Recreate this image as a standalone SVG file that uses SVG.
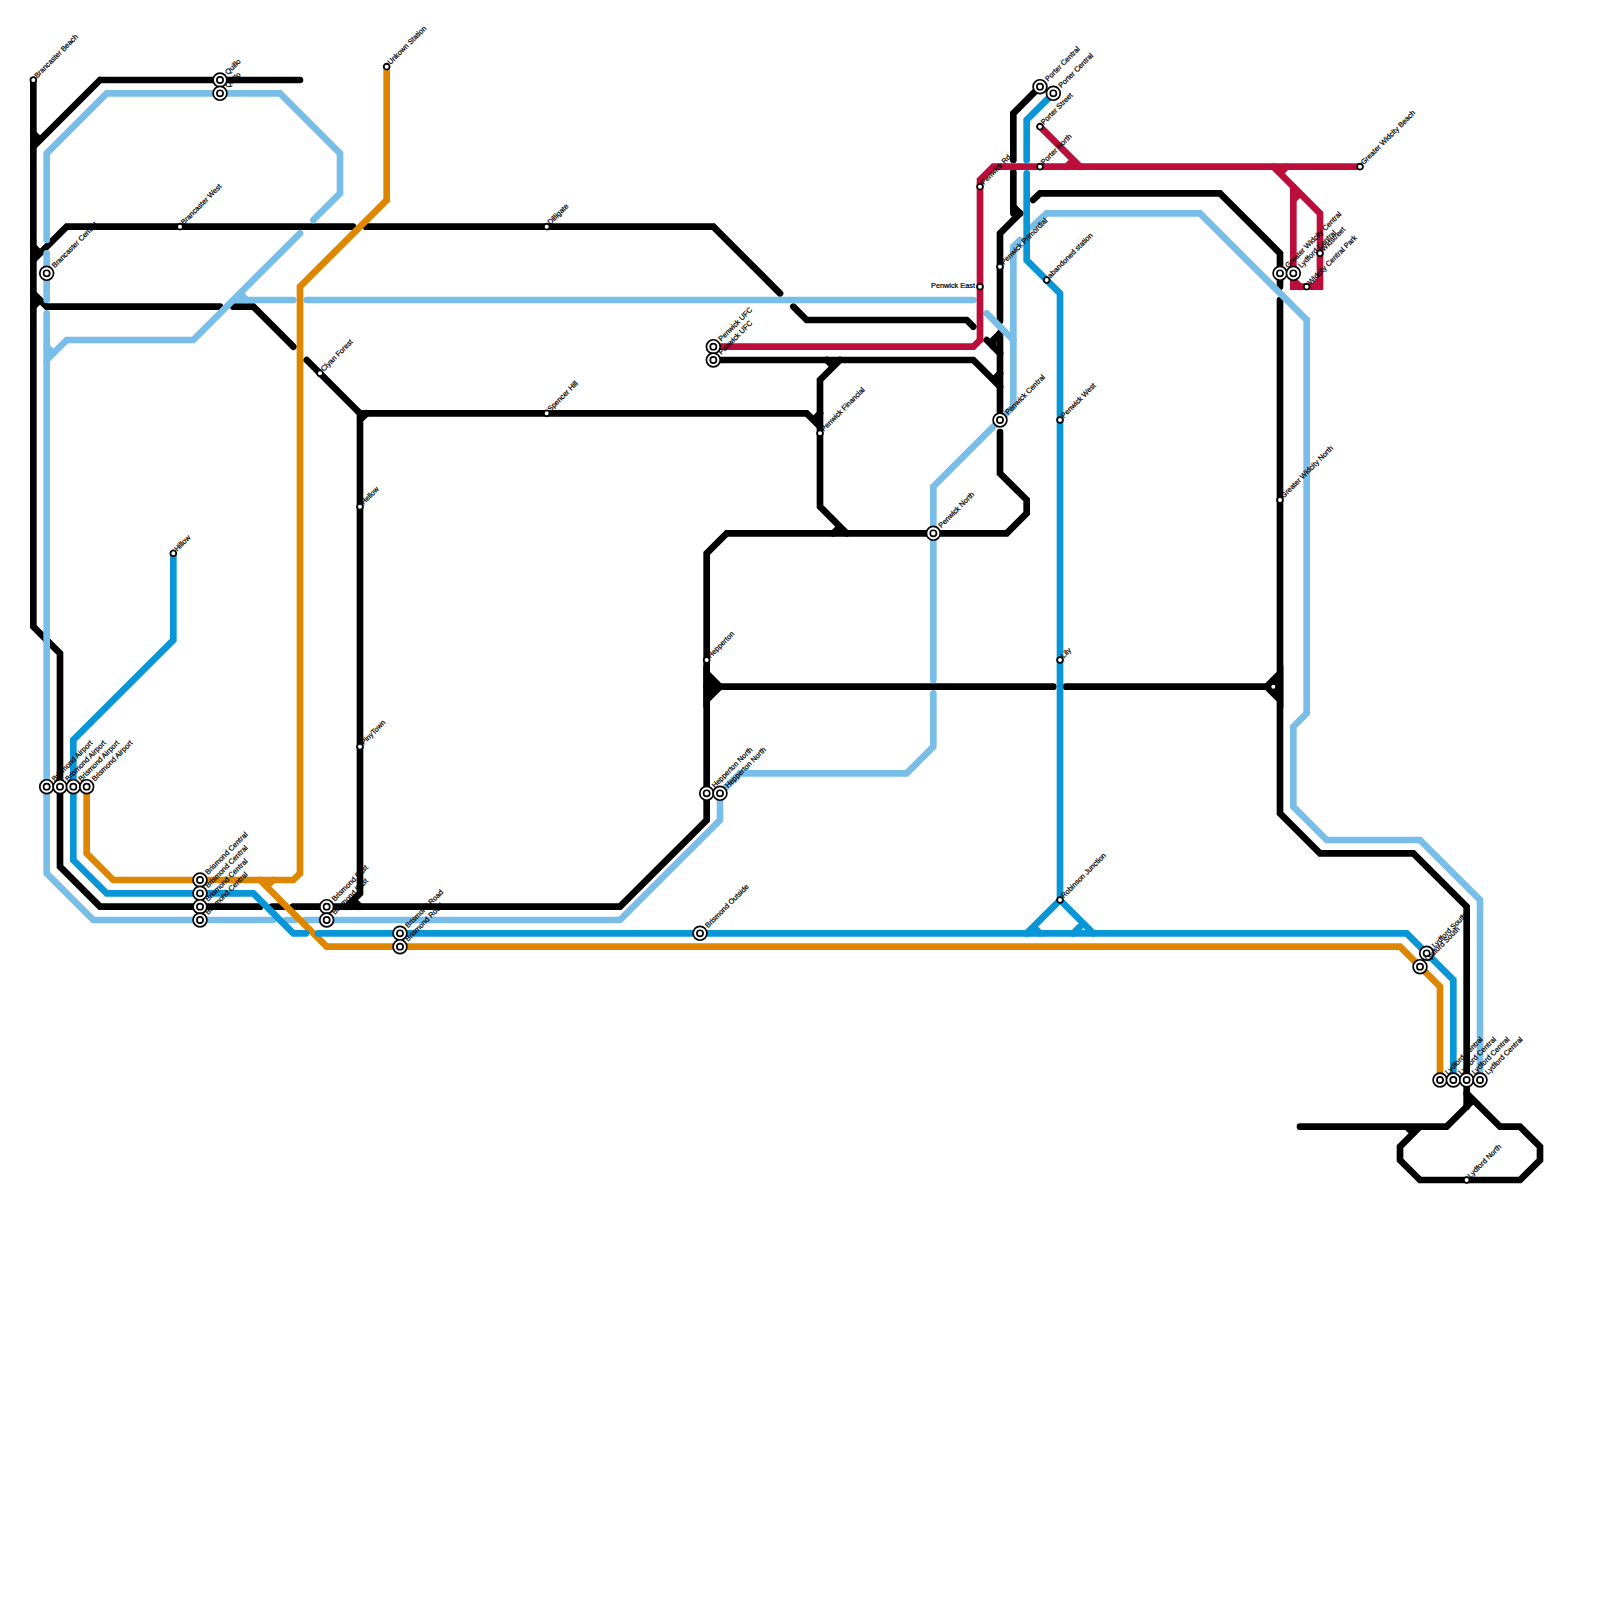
<svg xmlns="http://www.w3.org/2000/svg" xmlns:xlink="http://www.w3.org/1999/xlink" width="1600" height="1600" viewBox="0 0 1600 1600">
<style>
.c path{fill:none;stroke-width:6.67;stroke-linecap:round;stroke-linejoin:miter}
.c .k path,.k path{stroke:#000}
.c .k path.f{fill:#000}
.l path{stroke:#79bde9}
.b path{stroke:#0896d7}
.o path{stroke:#df8600}
.r path{stroke:#bb0e3a}
text{font-family:"Liberation Sans",Arial,sans-serif;font-size:7.33px;fill:#000;stroke:#000;stroke-width:.22px}
.s{transform:translate(3.8px,-1.6px) rotate(-45deg)}
.i{transform:translate(8px,-5px) rotate(-45deg)}
.e{text-anchor:end}
</style>
<defs>
<g id="small"><circle r="2.9" fill="#fff" stroke="#000" stroke-width="1.8"/></g>
<g id="inter"><circle r="6.9" fill="#fff" stroke="#000" stroke-width="1.7"/><circle r="3.1" fill="#fff" stroke="#000" stroke-width="1.7"/></g>
</defs>
<rect width="1600" height="1600" fill="#fff"/>
<g id="connectors" class="c">
<g class="k">
<path d="M33.33 80V626.67L60 653.33V866.67L100 906.67H260"/>
<path d="M272 906.67H283"/>
<path d="M293 906.67H620L706.67 820V553.33L726.67 533.33H1006.67L1026.67 513.33V500L1000 473.33V432"/>
<path d="M100 80L33.33 146.67M100 80H300M33.33 133.33L40 140"/>
<path d="M33.33 260L66.67 226.67H353M33.33 246.67L40 253.33"/>
<path d="M366 226.67H713.33L780 293.33"/>
<path d="M793.33 306.67L806.67 320H966.67L973.33 326.67"/>
<path d="M986.67 340L1000 353.33M1000 333.33L993.33 340V346.67"/>
<path d="M33.33 293.33L46.67 306.67H220M33.33 306.67L40 300"/>
<path d="M233.33 306.67H253.33L293.33 346.67"/>
<path d="M306.67 360L360 413.33V893.33L346.67 906.67M360 420L366.67 413.33M353.33 900L360 906.67"/>
<path d="M360 413.33H806.67L820 426.67M820 413.33L813.33 420"/>
<path d="M713.33 360H973.33L1000 386.67M1000 373.33L993.33 380"/>
<path d="M840 360L820 380V506.67L846.67 533.33M826.67 360L833.33 366.67M833.33 533.33L840 526.67"/>
<path d="M1000 333V412"/>
<path d="M1040 86.67L1013.33 113.33V160"/>
<path d="M1013.33 172V213.33M1013.33 206.67L1020 213.33"/>
<path d="M1020 213.33L1000 233.33V321"/>
<path d="M1033 200L1040 193.33H1220L1280 253.33V286.67"/>
<path d="M1280 300V813.33L1320 853.33H1413.33L1466.67 906.67V1106.67"/>
<path d="M706.67 686.67H1053.33"/>
<path class="f" d="M706.67 673.33L720 686.67L706.67 700Z"/>
<path class="f" d="M1280 673.33L1266.67 686.67L1280 700Z"/>
<path d="M1066 686.67H1266.67"/>
<path d="M1300 1126.67H1446.67L1473.33 1100M1466.67 1093.33L1500 1126.67H1520L1540 1146.67V1160L1520 1180H1420L1400 1160V1146.67L1420 1126.67M1406.67 1126.67L1413.33 1133.33"/>
</g>
<g class="l">
<path d="M46.67 240V153.33L106.67 93.33H280L340 153.33V193.33L313.33 220"/>
<path d="M300 233.33L193.33 340H66.67L46.67 360M46.67 346.67L53.33 353.33"/>
<path d="M46.67 253.33V300"/>
<path d="M46.67 313.33V873.33L93.33 920H273.33"/>
<path d="M286 920H295"/>
<path d="M305 920H620L720 820V793.33L740 773.33H906.67L933.33 746.67V693.33"/>
<path d="M933.33 680V486.67L1013.33 406.67V246.67L1020 240"/>
<path d="M1032 227L1046.67 213.33H1200L1306.67 320V713.33L1293.33 726.67V806.67L1326.67 840H1420L1480 900V1080"/>
<path d="M233.33 300H293.33M240 293.33L246.67 300"/>
<path d="M306.67 300H973.33"/>
<path d="M986.67 313.33L1013.33 340"/>
</g>
<g class="o">
<path d="M386.67 66.67V200L300 286.67V873.33L293.33 880H113.33L86.67 853.33V786.67"/>
<path d="M260 880L326.67 946.67H1400L1440 986.67V1080M273.33 880L266.67 886.67"/>
</g>
<g class="b">
<path d="M173.33 553.33V640L73.33 740V860L106.67 893.33H253.33L293.33 933.33H306"/>
<path d="M318 933.33H1406.67L1453.33 980V1080"/>
<path d="M1053.33 93.33L1026.67 120V160"/>
<path d="M1026.67 173.33V260L1060 293.33V900L1026.67 933.33M1060 900L1093.33 933.33M1033.33 926.67L1040 933.33M1080 926.67L1073.33 933.33"/>
</g>
<g class="r">
<path d="M713.33 346.67H973.33L980 340V180L993.33 166.67H1360"/>
<path d="M1040 126.67L1080 166.67M1066.67 166.67L1073.33 160"/>
<path d="M1273.33 166.67L1320 213.33V286.67H1293.33V186.67M1286.67 166.67L1280 173.33M1293.33 200L1300 193.33M1293.33 280L1300 286.67M1320 280L1313.33 286.67"/>
</g>
</g>
<g id="n-brancaster-beach" transform="translate(33.33 80)"><use href="#small"/><text class="s">Brancaster Beach</text></g>
<g id="n-quillo-1" transform="translate(220 80)"><use href="#inter"/><text class="i">Quillo</text></g>
<g id="n-quillo-2" transform="translate(220 93.33)"><use href="#inter"/><text class="i">Quillo</text></g>
<g id="n-unkown" transform="translate(386.67 66.67)"><use href="#small"/><text class="s">Unkown Station</text></g>
<g id="n-brancaster-west" transform="translate(180 226.67)"><use href="#small"/><text class="s">Brancaster West</text></g>
<g id="n-brancaster-central" transform="translate(46.67 273.33)"><use href="#inter"/><text class="i">Brancaster Central</text></g>
<g id="n-clyan-forest" transform="translate(320 373.33)"><use href="#small"/><text class="s">Clyan Forest</text></g>
<g id="n-hellow" transform="translate(360 506.67)"><use href="#small"/><text class="s">Hellow</text></g>
<g id="n-pinytown" transform="translate(360 746.67)"><use href="#small"/><text class="s">PinyTown</text></g>
<g id="n-hillow" transform="translate(173.33 553.33)"><use href="#small"/><text class="s">Hillow</text></g>
<g id="n-airport-1" transform="translate(46.67 786.67)"><use href="#inter"/><text class="i">Brismond Airport</text></g>
<g id="n-airport-2" transform="translate(60 786.67)"><use href="#inter"/><text class="i">Brismond Airport</text></g>
<g id="n-airport-3" transform="translate(73.33 786.67)"><use href="#inter"/><text class="i">Brismond Airport</text></g>
<g id="n-airport-4" transform="translate(86.67 786.67)"><use href="#inter"/><text class="i">Brismond Airport</text></g>
<g id="n-central-1" transform="translate(200 880)"><use href="#inter"/><text class="i">Brismond Central</text></g>
<g id="n-central-2" transform="translate(200 893.33)"><use href="#inter"/><text class="i">Brismond Central</text></g>
<g id="n-central-3" transform="translate(200 906.67)"><use href="#inter"/><text class="i">Brismond Central</text></g>
<g id="n-central-4" transform="translate(200 920)"><use href="#inter"/><text class="i">Brismond Central</text></g>
<g id="n-east-1" transform="translate(326.67 906.67)"><use href="#inter"/><text class="i">Brismond East</text></g>
<g id="n-east-2" transform="translate(326.67 920)"><use href="#inter"/><text class="i">Brismond East</text></g>
<g id="n-road-1" transform="translate(400 933.33)"><use href="#inter"/><text class="i">Brismond Road</text></g>
<g id="n-road-2" transform="translate(400 946.67)"><use href="#inter"/><text class="i">Brismond Road</text></g>
<g id="n-outside" transform="translate(700 933.33)"><use href="#inter"/><text class="i">Brismond Outside</text></g>
<g id="n-dilligate" transform="translate(546.67 226.67)"><use href="#small"/><text class="s">Dilligate</text></g>
<g id="n-spencer-hill" transform="translate(546.67 413.33)"><use href="#small"/><text class="s">Spencer Hill</text></g>
<g id="n-ufc-1" transform="translate(713.33 346.67)"><use href="#inter"/><text class="i">Penwick UFC</text></g>
<g id="n-ufc-2" transform="translate(713.33 360)"><use href="#inter"/><text class="i">Penwick UFC</text></g>
<g id="n-financial" transform="translate(820 433.33)"><use href="#small"/><text class="s">Penwick Financial</text></g>
<g id="n-hepperton" transform="translate(706.67 660)"><use href="#small"/><text class="s">Hepperton</text></g>
<g id="n-hepperton-north-1" transform="translate(706.67 793.33)"><use href="#inter"/><text class="i">Hepperton North</text></g>
<g id="n-hepperton-north-2" transform="translate(720 793.33)"><use href="#inter"/><text class="i">Hepperton North</text></g>
<g id="n-penwick-north" transform="translate(933.33 533.33)"><use href="#inter"/><text class="i">Penwick North</text></g>
<g id="n-penwick-central" transform="translate(1000 420)"><use href="#inter"/><text class="i">Penwick Central</text></g>
<g id="n-penwick-west" transform="translate(1060 420)"><use href="#small"/><text class="s">Penwick West</text></g>
<g id="n-lily" transform="translate(1060 660)"><use href="#small"/><text class="s">Lily</text></g>
<g id="n-robinson" transform="translate(1060 900)"><use href="#small"/><text class="s">Robinson Junction</text></g>
<g id="n-penwick-east" transform="translate(980 286.67)"><use href="#small"/><text class="e" x="-5" y="1">Penwick East</text></g>
<g id="n-primordial" transform="translate(1000 266.67)"><use href="#small"/><text class="s">Penwick Primordial</text></g>
<g id="n-abandoned" transform="translate(1046.67 280)"><use href="#small"/><text class="s">abandoned station</text></g>
<g id="n-porter-central-1" transform="translate(1040 86.67)"><use href="#inter"/><text class="i">Porter Central</text></g>
<g id="n-porter-central-2" transform="translate(1053.33 93.33)"><use href="#inter"/><text class="i">Porter Central</text></g>
<g id="n-porter-street" transform="translate(1040 126.67)"><use href="#small"/><text class="s">Porter Street</text></g>
<g id="n-porter-north" transform="translate(1040 166.67)"><use href="#small"/><text class="s">Porter North</text></g>
<g id="n-penwick-rd" transform="translate(980 186.67)"><use href="#small"/><text class="s">Penwick Rd</text></g>
<g id="n-widcity-central" transform="translate(1280 273.33)"><use href="#inter"/><text class="i">Greater Widcity Central</text></g>
<g id="n-lydford-central-w" transform="translate(1293.33 273.33)"><use href="#inter"/><text class="i">Lydford Central</text></g>
<g id="n-widstreet" transform="translate(1320 253.33)"><use href="#small"/><text class="s">Widstreet</text></g>
<g id="n-widcity-park" transform="translate(1306.67 286.67)"><use href="#small"/><text class="s">Widcity Central Park</text></g>
<g id="n-widcity-beach" transform="translate(1360 166.67)"><use href="#small"/><text class="s">Greater Widcity Beach</text></g>
<g id="n-widcity-north" transform="translate(1280 500)"><use href="#small"/><text class="s">Greater Widcity North</text></g>
<g id="n-junction-dot" transform="translate(1273.33 686.67)"><use href="#small"/></g>
<g id="n-lydford-south-1" transform="translate(1426.67 953.33)"><use href="#inter"/><text class="i">Lydford South</text></g>
<g id="n-lydford-south-2" transform="translate(1420 966.67)"><use href="#inter"/><text class="i">Lydford South</text></g>
<g id="n-lydford-central-1" transform="translate(1440 1080)"><use href="#inter"/><text class="i">Lydford Central</text></g>
<g id="n-lydford-central-2" transform="translate(1453.33 1080)"><use href="#inter"/><text class="i">Lydford Central</text></g>
<g id="n-lydford-central-3" transform="translate(1466.67 1080)"><use href="#inter"/><text class="i">Lydford Central</text></g>
<g id="n-lydford-central-4" transform="translate(1480 1080)"><use href="#inter"/><text class="i">Lydford Central</text></g>
<g id="n-lydford-north" transform="translate(1466.67 1180)"><use href="#small"/><text class="s">Lydford North</text></g>
</svg>
